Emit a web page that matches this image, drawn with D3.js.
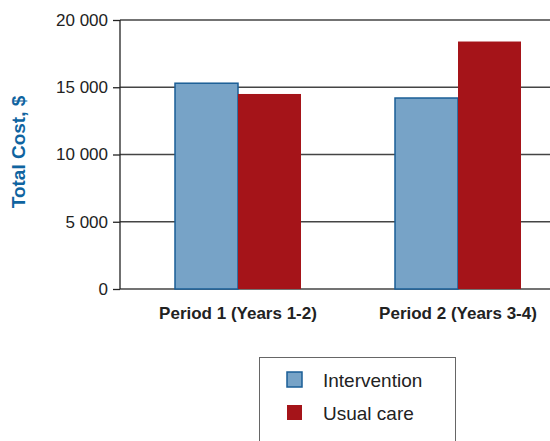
<!DOCTYPE html>
<html>
<head>
<meta charset="utf-8">
<script src="https://cdn.jsdelivr.net/npm/d3@7"></script>
<style>
  body { margin: 0; background: #fff; }
  text { font-family: "Liberation Sans", Arial, sans-serif; }
</style>
</head>
<body>
<div id="chart"></div>
<script>
// data
var periods = ["Period 1 (Years 1-2)", "Period 2 (Years 3-4)"]
var series = ["Intervention", "Usual care"]
var intervention = [15300, 14200]
var usualCare = [14500, 18400]
var yTicks = [0, 5000, 10000, 15000, 20000]

var colors = { "Intervention": "#77a3c7", "Usual care": "#a51419" }
var strokes = { "Intervention": "#1a5e96", "Usual care": "none" }

var width = 550
var height = 441

var svg = d3.select("#chart")
  .append("svg")
    .attr("width", width)
    .attr("height", height)

// scales
var y = d3.scaleLinear()
    .domain([0, 20000])
    .range([289, 20])

var x0 = d3.scaleBand()
    .domain(periods)
    .range([128, 568])

var x1 = d3.scaleBand()
    .domain(series)
    .range([-63, 63])

var fmt = function(d) { return d3.format(",")(d).replace(",", " ") }

// gridlines + ticks
var yAxis = svg.append("g")
    .attr("transform", "translate(120,0)")
    .call(d3.axisLeft(y).tickValues(yTicks).tickSize(7).tickPadding(5).tickFormat(fmt))

yAxis.select(".domain").remove()
yAxis.selectAll("line").attr("stroke", "#222").attr("stroke-width", 1.3)
yAxis.selectAll("text")
    .attr("fill", "#222")
    .style("font-size", "17px")

svg.append("g")
  .selectAll("line")
  .data(yTicks)
  .enter()
  .append("line")
    .attr("x1", 120)
    .attr("x2", width)
    .attr("y1", function(d) { return y(d) })
    .attr("y2", function(d) { return y(d) })
    .attr("stroke", "#444")
    .attr("stroke-width", 1.3)

// bars
var rows = periods.map(function(p, i) {
  return [
    { period: p, key: "Intervention", value: intervention[i] },
    { period: p, key: "Usual care", value: usualCare[i] }
  ]
})

svg.append("g")
  .selectAll("g")
  .data(rows)
  .enter()
  .append("g")
    .attr("transform", function(d, i) { return "translate(" + (x0(periods[i]) + x0.bandwidth() / 2) + ",0)" })
  .selectAll("rect")
  .data(function(d) { return d })
  .enter()
  .append("rect")
    .attr("x", function(d) { return x1(d.key) })
    .attr("y", function(d) { return y(d.value) })
    .attr("width", x1.bandwidth())
    .attr("height", function(d) { return y(0) - y(d.value) })
    .attr("fill", function(d) { return colors[d.key] })
    .attr("stroke", function(d) { return strokes[d.key] })
    .attr("stroke-width", 1.5)

// y axis line
svg.append("line")
    .attr("x1", 120).attr("x2", 120)
    .attr("y1", y(20000)).attr("y2", y(0))
    .attr("stroke", "#222")
    .attr("stroke-width", 1.3)

// category labels
svg.append("g")
  .selectAll("text")
  .data(periods)
  .enter()
  .append("text")
    .attr("x", function(d) { return x0(d) + x0.bandwidth() / 2 })
    .attr("y", 319)
    .attr("text-anchor", "middle")
    .attr("fill", "#222")
    .style("font-size", "17px")
    .style("font-weight", "bold")
    .text(function(d) { return d })

// y axis title
svg.append("text")
    .attr("transform", "translate(25,152) rotate(-90)")
    .attr("text-anchor", "middle")
    .attr("fill", "#0f64a0")
    .style("font-size", "19px")
    .style("font-weight", "bold")
    .text("Total Cost, $")

// legend
var legend = svg.append("g")

legend.append("rect")
    .attr("x", 259.5)
    .attr("y", 357.5)
    .attr("width", 196)
    .attr("height", 100)
    .attr("fill", "none")
    .attr("stroke", "#666")
    .attr("stroke-width", 1)

var items = legend.selectAll("g")
  .data(series)
  .enter()
  .append("g")
    .attr("transform", function(d, i) { return "translate(287," + (372 + i * 33) + ")" })

items.append("rect")
    .attr("width", 15)
    .attr("height", 15)
    .attr("fill", function(d) { return colors[d] })
    .attr("stroke", function(d) { return strokes[d] })
    .attr("stroke-width", 1.5)

items.append("text")
    .attr("x", 36)
    .attr("y", 14.5)
    .attr("fill", "#222")
    .style("font-size", "19px")
    .text(function(d) { return d })
</script>
</body>
</html>
